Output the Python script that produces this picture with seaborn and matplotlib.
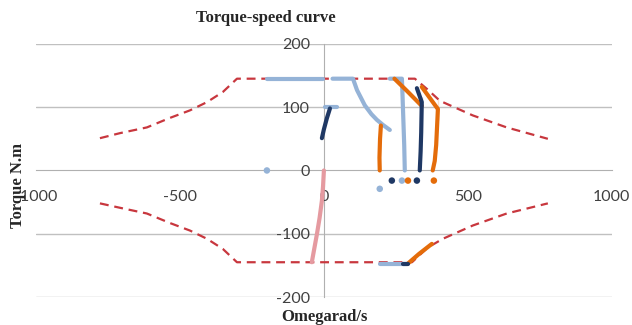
import matplotlib
matplotlib.use("Agg")
import matplotlib.pyplot as plt
import seaborn as sns

# envelope (dashed red)
env_up_x = [-778, -708, -615, -535, -465, -406, -351, -302, 316, 360, 403, 517, 635, 778]
env_up_y = [51, 59, 68, 83, 95, 108, 124, 145, 145, 128, 110, 87, 68, 50]
env_lo_x = [-778, -708, -615, -535, -465, -406, -351, -302, 306, 360, 413, 517, 635, 778]
env_lo_y = [-52, -59, -68, -83, -95, -108, -124, -145, -145, -122, -108, -87, -68, -52]

# light blue series
lb_top1_x, lb_top1_y = [-198, -3], [145, 145]
lb_curve_x = [30, 101, 115, 142, 165, 184, 205, 229]
lb_curve_y = [145, 145, 127, 103, 89, 80, 72, 64]
lb_short_x, lb_short_y = [3, 45], [100, 100]
lb_vert_x = [229, 271, 273, 276, 279, 281]
lb_vert_y = [145, 145, 120, 80, 40, 0]
lb_bot_x, lb_bot_y = [194, 288], [-147, -147]
lb_dots_x, lb_dots_y = [-198, 194, 271], [0, -29, -16]

# navy series
nv_small_x, nv_small_y = [-7, 0, 10, 21], [51, 65, 82, 98]
nv_vert_x = [323, 340, 340, 338, 336, 333]
nv_vert_y = [130, 116, 100, 60, 30, 0]
nv_bot_x, nv_bot_y = [274, 292], [-147, -147]
nv_dots_x, nv_dots_y = [236, 323], [-16, -16]

# orange series
or_left_x, or_left_y = [198, 195, 193, 193, 194], [71, 50, 30, 10, 0]
or_diag_x, or_diag_y = [245, 290, 340], [145, 125, 102]
or_right_x = [340, 396, 396, 390, 385, 378]
or_right_y = [132, 114, 80, 40, 15, 0]
or_bot_x, or_bot_y = [292, 330, 375], [-147, -132, -116]
or_dots_x, or_dots_y = [292, 382], [-16, -16]

# pink series
pk_x = [0, -3, -7, -15, -24, -34, -42]
pk_y = [0, -25, -48, -75, -100, -125, -145]

sns.set_style("white")
plt.rcParams['font.family'] = ['Lato', 'DejaVu Sans']
plt.rcParams['axes.unicode_minus'] = False

LB, NV, OR, PK, RD = '#95B3D7', '#1F3864', '#E46C0A', '#E59AA0', '#C8373E'

fig = plt.figure(figsize=(6.32, 3.25), dpi=100)
ax = fig.add_axes([0.057, 0.086, 0.911, 0.779])

for yv in [200, 100, -100, -200]:
    ax.axhline(yv, color='#C0C0C0', lw=1, zorder=0)

sns.lineplot(x=env_up_x, y=env_up_y, color=RD, lw=1.6, linestyle=(0, (4, 2.6)), sort=False, ax=ax)
sns.lineplot(x=env_lo_x, y=env_lo_y, color=RD, lw=1.6, linestyle=(0, (4, 2.6)), sort=False, ax=ax)

def seg(x, y, c):
    l = sns.lineplot(x=x, y=y, color=c, lw=3, sort=False, ax=ax)
    l.lines[-1].set_solid_capstyle('round')
    l.lines[-1].set_solid_joinstyle('round')

for x, y in [(lb_top1_x, lb_top1_y), (lb_curve_x, lb_curve_y), (lb_short_x, lb_short_y),
             (lb_vert_x, lb_vert_y), (lb_bot_x, lb_bot_y)]:
    seg(x, y, LB)
for x, y in [(or_left_x, or_left_y), (or_diag_x, or_diag_y), (or_right_x, or_right_y),
             (or_bot_x, or_bot_y)]:
    seg(x, y, OR)
for x, y in [(nv_small_x, nv_small_y), (nv_vert_x, nv_vert_y), (nv_bot_x, nv_bot_y)]:
    seg(x, y, NV)
seg(pk_x, pk_y, PK)

for xs, ys, c in [(lb_dots_x, lb_dots_y, LB), (nv_dots_x, nv_dots_y, NV), (or_dots_x, or_dots_y, OR)]:
    sns.scatterplot(x=xs, y=ys, color=c, s=22, marker='o', edgecolor='none', ax=ax, zorder=3)

ax.set_xlim(-1000, 1000)
ax.set_ylim(-200, 200)
ax.set_xticks([-1000, -500, 0, 500, 1000])
ax.set_yticks([-200, -100, 0, 100, 200])
ax.spines['left'].set_position(('data', 0))
ax.spines['bottom'].set_position(('data', 0))
for s in ['top', 'right']:
    ax.spines[s].set_visible(False)
for s in ['left', 'bottom']:
    ax.spines[s].set_color('#B0B0B0')
    ax.spines[s].set_zorder(0)
ax.tick_params(axis='both', length=0, labelsize=11.5, labelcolor='#404040')
ax.tick_params(axis='x', pad=14)
ax.tick_params(axis='y', pad=10)

fig.text(0.42, 0.945, 'Torque-speed curve', family='Liberation Serif', weight='bold',
         fontsize=12, ha='center', va='center')
fig.text(0.028, 0.43, 'Torque N.m', family='Liberation Serif', weight='bold',
         fontsize=12, rotation=90, ha='center', va='center')
fig.text(0.514, 0.025, 'Omegarad/s', family='Liberation Serif', weight='bold',
         fontsize=12, ha='center', va='center')

fig.savefig('out.png', dpi=100)
